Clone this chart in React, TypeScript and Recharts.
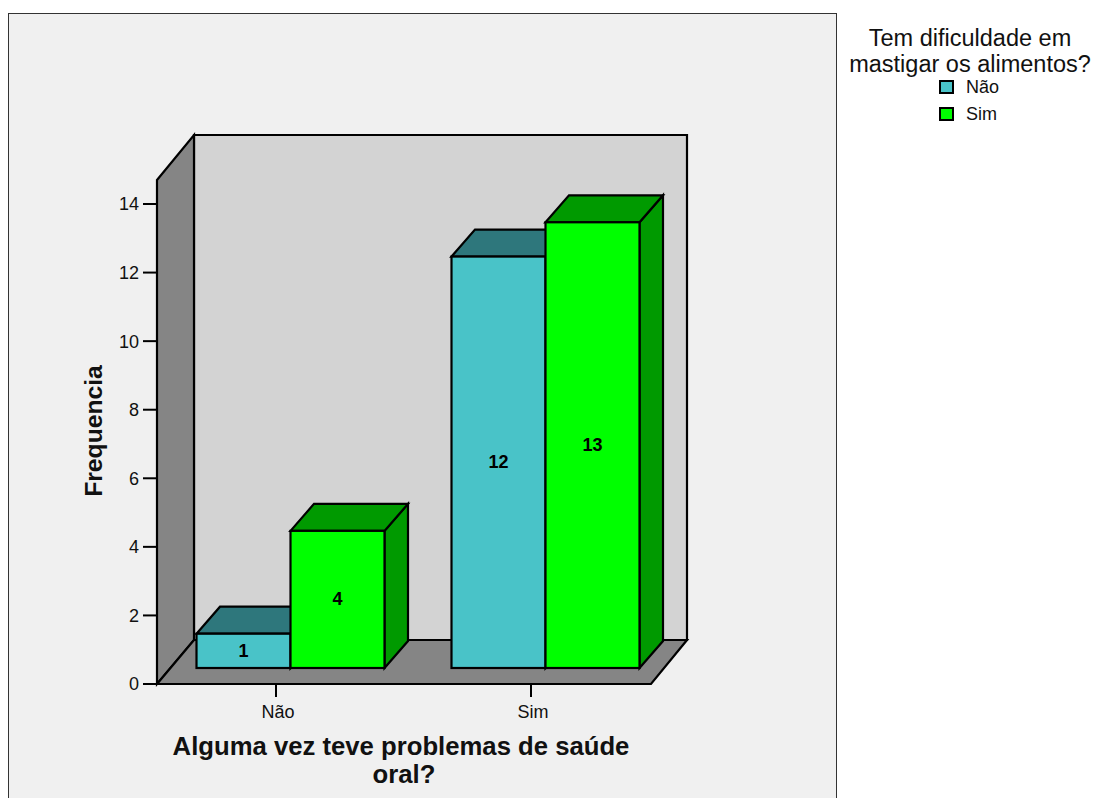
import React from "react";
import { BarChart, Bar, XAxis, YAxis, Legend, LabelList, Label } from "recharts";

const categories = ["Não", "Sim"];
const seriesNao = [1, 12];
const seriesSim = [4, 13];
const yTicks = [0, 2, 4, 6, 8, 10, 12, 14];
const yMax = 14.7;
const legendTitle = ["Tem dificuldade em", "mastigar os alimentos?"];
const xTitle = ["Alguma vez teve problemas de saúde", "oral?"];
const yTitle = "Frequencia";

const rows = categories.map((c, i) => ({ cat: c, nao: seriesNao[i], sim: seriesSim[i] }));

const FONT = "'Liberation Sans', Arial, Helvetica, sans-serif";
const TEXT = "#111";
const SHIFT_X = 14.5;
const SHIFT_Y = -16;
const DEPTH_X = 23.5;
const DEPTH_Y = -27;

const shades: Record<string, string> = { "#49c3c8": "#2e777c", "#00ff00": "#009a00" };

const Bar3D = (p: any) => {
  const { x, y, width, height, fill } = p;
  const l = x + SHIFT_X;
  const r = l + width;
  const t = y + SHIFT_Y;
  const b = t + height;
  const dark = shades[fill];
  const s = { stroke: "#000", strokeWidth: 2.2, strokeLinejoin: "miter" as const };
  return (
    <g>
      <polygon points={`${r},${t} ${r + DEPTH_X},${t + DEPTH_Y} ${r + DEPTH_X},${b + DEPTH_Y} ${r},${b}`} fill={dark} {...s} />
      <polygon points={`${l},${t} ${l + DEPTH_X},${t + DEPTH_Y} ${r + DEPTH_X},${t + DEPTH_Y} ${r},${t}`} fill={dark} {...s} />
      <rect x={l} y={t} width={width} height={height} fill={fill} {...s} />
    </g>
  );
};

const valueLabel = (p: any) => {
  const { x, y, width, height, value } = p;
  return (
    <text x={x + SHIFT_X + width / 2} y={y + SHIFT_Y + height / 2 + 6} textAnchor="middle" fontFamily={FONT} fontWeight="bold" fontSize={18} fill="#000">
      {value}
    </text>
  );
};

const XTick = (p: any) => (
  <text x={p.x + 2} y={718} textAnchor="middle" fontFamily={FONT} fontSize={18} fill={TEXT}>
    {p.payload.value}
  </text>
);

const legendContent = (p: any) => (
  <div style={{ fontFamily: FONT, color: TEXT, textAlign: "center" }}>
    {legendTitle.map((t) => (
      <div key={t} style={{ fontSize: 23.5, lineHeight: "26px" }}>{t}</div>
    ))}
    <div style={{ position: "relative" }}>
      {(p.payload || []).map((e: any) => (
        <div key={e.value} style={{ height: 27, position: "relative" }}>
          <span style={{ position: "absolute", left: 100, top: 3, width: 11, height: 10, background: e.color, border: "2px solid #000" }} />
          <span style={{ position: "absolute", left: 127, top: 0, fontSize: 18, lineHeight: "20px" }}>{e.value}</span>
        </div>
      ))}
    </div>
  </div>
);

export default function App() {
  return (
    <div style={{ position: "absolute", left: 0, top: 0, width: 1093, height: 798, overflow: "hidden", background: "#fff" }}>
      <BarChart
        width={1093}
        height={798}
        data={rows}
        margin={{ top: 180, right: 442, bottom: 54, left: 97 }}
        barGap={0}
        barCategoryGap={33.5}
      >
        <rect x={8.5} y={13.5} width={828} height={800} fill="#f0f0f0" stroke="#333" strokeWidth={1} />
        <polygon points="194,135 687,135 687,640 194,640" fill="#d3d3d3" stroke="#000" strokeWidth={2.2} />
        <polygon points="157,180 194,135 194,640 157,684" fill="#858585" stroke="#000" strokeWidth={2.2} />
        <polygon points="157,684 194,640 687,640 651,684" fill="#858585" stroke="#000" strokeWidth={2.2} />
        <XAxis
          dataKey="cat"
          height={60}
          axisLine={false}
          tickSize={13}
          tickLine={{ stroke: "#000", strokeWidth: 2 }}
          padding={{ left: -8.5, right: -7.5 }}
          tick={XTick}
          label={(
            <Label
              content={() => (
                <text textAnchor="middle" fontFamily={FONT} fontWeight="bold" fontSize={25.7} fill={TEXT}>
                  <tspan x={401} y={755}>{xTitle[0]}</tspan>
                  <tspan x={404} y={783}>{xTitle[1]}</tspan>
                </text>
              )}
            />
          )}
        />
        <YAxis
          width={60}
          domain={[0, yMax]}
          ticks={yTicks}
          allowDataOverflow
          axisLine={false}
          tickSize={14}
          tickMargin={4}
          tickLine={{ stroke: "#000", strokeWidth: 2 }}
          tick={{ fontFamily: FONT, fontSize: 18, fill: TEXT }}
          label={(
            <Label
              content={() => (
                <text x={0} y={0} transform="translate(102,431) rotate(-90)" textAnchor="middle" fontFamily={FONT} fontWeight="bold" fontSize={24.7} fill={TEXT}>
                  {yTitle}
                </text>
              )}
            />
          )}
        />
        <Legend
          layout="horizontal"
          verticalAlign="middle"
          content={legendContent}
          wrapperStyle={{ position: "absolute", left: 839, top: 25, width: 262, bottom: "auto", right: "auto" }}
        />
        <Bar dataKey="nao" name="Não" fill="#49c3c8" shape={Bar3D} isAnimationActive={false}>
          <LabelList dataKey="nao" content={valueLabel} />
        </Bar>
        <Bar dataKey="sim" name="Sim" fill="#00ff00" shape={Bar3D} isAnimationActive={false}>
          <LabelList dataKey="sim" content={valueLabel} />
        </Bar>
      </BarChart>
    </div>
  );
}
